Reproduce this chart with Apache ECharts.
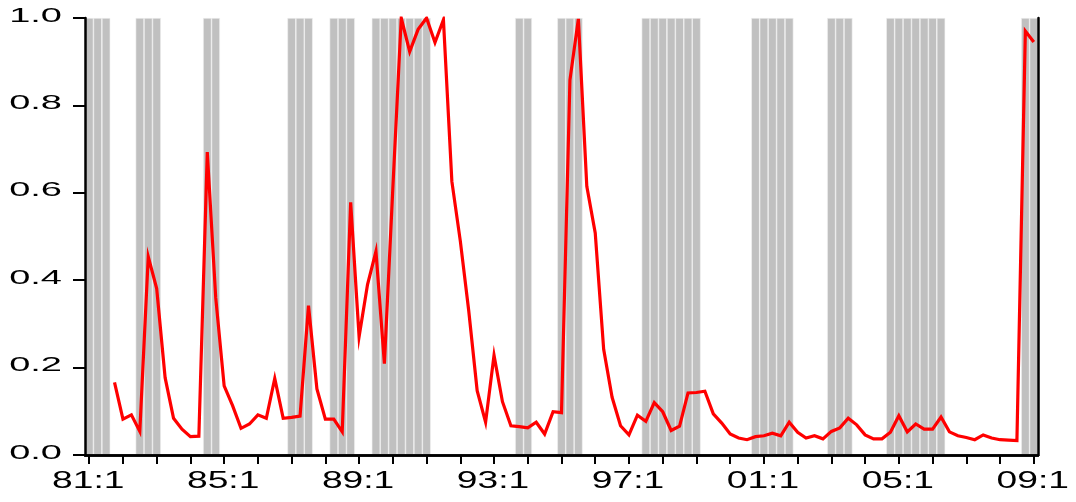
<!DOCTYPE html>
<html>
<head>
<meta charset="utf-8">
<script src="https://cdn.jsdelivr.net/npm/echarts@6/dist/echarts.min.js"></script>
<style>
  html, body { margin: 0; padding: 0; background: #ffffff; }
  #chart { width: 1076px; height: 502px; }
</style>
</head>
<body>
<div id="chart"></div>
<script>
// Quarterly sample 1981Q1 .. 2009Q1, labelled "yy:q"
const firstYear = 1981;
const lastYear = 2009;
const lastQuarter = 1;
const categories = [];
for (let y = firstYear; y <= lastYear; y++) {
  for (let q = 1; q <= 4; q++) {
    if (y === lastYear && q > lastQuarter) break;
    categories.push(String(y % 100).padStart(2, '0') + ':' + q);
  }
}

// Probability series (missing for the first three quarters)
const probability = [
  null, null, null, 0.166, 0.082, 0.092, 0.054, 0.454, 0.381, 0.177,
  0.084, 0.059, 0.042, 0.043, 0.693, 0.360, 0.158, 0.113, 0.061, 0.071,
  0.092, 0.084, 0.175, 0.084, 0.086, 0.089, 0.342, 0.151, 0.082, 0.082,
  0.053, 0.578, 0.271, 0.390, 0.466, 0.209, 0.610, 1.000, 0.923, 0.974,
  1.000, 0.944, 0.996, 0.626, 0.490, 0.330, 0.147, 0.075, 0.228, 0.122,
  0.067, 0.065, 0.062, 0.075, 0.048, 0.099, 0.097, 0.858, 0.998, 0.615,
  0.508, 0.242, 0.132, 0.067, 0.046, 0.091, 0.077, 0.120, 0.099, 0.056,
  0.066, 0.142, 0.143, 0.146, 0.094, 0.073, 0.048, 0.039, 0.035, 0.042,
  0.044, 0.050, 0.044, 0.075, 0.052, 0.039, 0.044, 0.037, 0.054, 0.062,
  0.084, 0.069, 0.046, 0.037, 0.037, 0.052, 0.090, 0.053, 0.071, 0.059,
  0.059, 0.087, 0.053, 0.044, 0.040, 0.035, 0.046, 0.039, 0.035, 0.034,
  0.033, 0.970, 0.945
];

// Shaded periods (first and last quarter of each span)
const shadedSpans = [
  ['81:1', '81:3'], ['82:3', '83:1'], ['84:3', '84:4'], ['87:1', '87:3'],
  ['88:2', '88:4'], ['89:3', '91:1'], ['93:4', '94:1'], ['95:1', '95:3'],
  ['97:3', '99:1'], ['00:4', '01:4'], ['03:1', '03:3'], ['04:4', '06:2'],
  ['08:4', '09:1']
];

const xTickLabels = ['81:1', '85:1', '89:1', '93:1', '97:1', '01:1', '05:1', '09:1'];
const yTickValues = [0.0, 0.2, 0.4, 0.6, 0.8, 1.0];
const yTickLabels = ['0.0', '0.2', '0.4', '0.6', '0.8', '1.0'];

// One full-height shading bar for every quarter inside a shaded span
const shading = categories.map(() => null);
shadedSpans.forEach(([a, b]) => {
  const i0 = categories.indexOf(a), i1 = categories.indexOf(b);
  for (let i = i0; i <= i1; i++) shading[i] = 1;
});

const chart = echarts.init(document.getElementById('chart'), null, { renderer: 'canvas' });

const frameLine = { show: true, lineStyle: { color: '#000000', width: 2.5 } };

chart.setOption({
  animation: false,
  backgroundColor: '#ffffff',
  grid: { left: 85, top: 18, width: 953, height: 437 },
  xAxis: [
    {
      type: 'category',
      data: categories,
      boundaryGap: true,
      z: 5,
      axisLine: frameLine,
      axisTick: {
        show: true, interval: 3, alignWithLabel: true, inside: false, length: 9,
        lineStyle: { color: '#000000', width: 2 }
      },
      axisLabel: { show: false },
      splitLine: { show: false }
    },
    {
      type: 'category',
      data: categories,
      position: 'top',
      z: 5,
      axisLine: frameLine,
      axisTick: { show: false },
      axisLabel: { show: false },
      splitLine: { show: false }
    }
  ],
  yAxis: [
    {
      type: 'value',
      min: 0, max: 1, interval: 0.2,
      z: 5,
      axisLine: frameLine,
      axisTick: { show: true, inside: false, length: 12, lineStyle: { color: '#000000', width: 2 } },
      axisLabel: { show: false },
      splitLine: { show: false }
    },
    {
      type: 'value',
      min: 0, max: 1, interval: 0.2,
      position: 'right',
      z: 5,
      axisLine: frameLine,
      axisTick: { show: false },
      axisLabel: { show: false },
      splitLine: { show: false }
    }
  ],
  series: [
    {
      type: 'bar',
      data: shading,
      barCategoryGap: '0%',
      barGap: '-100%',
      silent: true,
      z: 1,
      itemStyle: { color: '#c0c0c0', borderColor: '#f2f2f2', borderWidth: 0.6 }
    },
    {
      type: 'line',
      data: probability,
      symbol: 'none',
      connectNulls: false,
      z: 3,
      lineStyle: { color: '#ff0000', width: 3.2, join: 'miter' }
    }
  ]
});

// Stretched tick labels, placed through the axis scales
const labelFontY = 'normal 20px "Liberation Sans", Arial, sans-serif';
const labelFontX = 'normal 24px "Liberation Sans", Arial, sans-serif';
const graphics = [];
yTickValues.forEach((v, k) => {
  const py = chart.convertToPixel({ yAxisIndex: 0 }, v);
  graphics.push({
    type: 'text', x: 62, y: py - 2, scaleX: 1.9, silent: true,
    style: {
      text: yTickLabels[k], font: labelFontY, fill: '#000000',
      align: 'right', textAlign: 'right', verticalAlign: 'middle', textVerticalAlign: 'middle'
    }
  });
});
xTickLabels.forEach((lab) => {
  const px = chart.convertToPixel({ xAxisIndex: 0 }, lab);
  graphics.push({
    type: 'text', x: px - 1, y: 481, scaleX: 1.55, silent: true,
    style: {
      text: lab, font: labelFontX, fill: '#000000',
      align: 'center', textAlign: 'center', verticalAlign: 'middle', textVerticalAlign: 'middle'
    }
  });
});
chart.setOption({ graphic: graphics });
</script>
</body>
</html>
